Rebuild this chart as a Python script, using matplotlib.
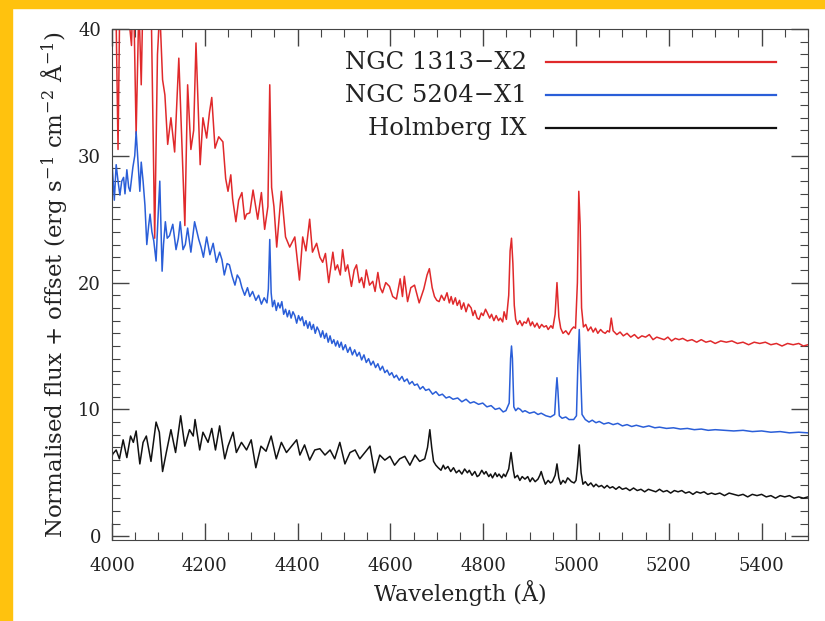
import numpy as np
import matplotlib.pyplot as plt
from matplotlib.patches import Rectangle
from matplotlib.ticker import MultipleLocator

plt.rcParams['font.family'] = 'DejaVu Serif'
plt.rcParams['mathtext.fontset'] = 'dejavuserif'

# (wavelength, normalised flux + offset) pairs
# NGC 1313-X2 (red)
red_pts = [(4008, 43), (4013, 30.5), (4018, 46), (4024, 42), (4030, 47), (4036, 41), (4042, 38.7),
           (4046, 44), (4052, 31.7), (4058, 42), (4063, 35.6), (4068, 45), (4075, 41), (4080, 46),
           (4085, 40.5), (4092, 23.5), (4098, 38), (4103, 41.5), (4109, 36), (4114, 34.8),
           (4120, 30.9), (4127, 33.0), (4135, 30.3), (4144, 37.7), (4152, 29.5), (4157, 24.5),
           (4163, 35.6), (4170, 30.5), (4176, 32), (4181, 38.9), (4190, 29.3), (4196, 33.0),
           (4204, 31.4), (4210, 33.4), (4215, 34.6), (4222, 30.6), (4230, 31.5), (4239, 31.1),
           (4245, 28.2), (4250, 27.2), (4256, 28.5), (4260, 26.6), (4267, 24.8), (4273, 26.5),
           (4280, 27.1), (4286, 25.0), (4290, 25.4), (4297, 25.5), (4304, 27.3), (4314, 25.0),
           (4322, 27.1), (4329, 24.2), (4336, 26.0), (4340, 35.6), (4344, 27.5), (4349, 26.0),
           (4355, 22.8), (4365, 27.2), (4374, 23.6), (4383, 22.8), (4394, 23.6), (4404, 20.2),
           (4411, 23.6), (4418, 22.5), (4426, 25.0), (4432, 22.4), (4441, 23.1), (4448, 22.0),
           (4454, 21.6), (4460, 22.3), (4467, 20.0), (4476, 22.4), (4481, 21.0), (4486, 21.4),
           (4492, 20.6), (4497, 22.6), (4503, 20.9), (4508, 21.4), (4516, 19.7), (4522, 21.0),
           (4527, 21.4), (4533, 20.0), (4538, 20.4), (4543, 19.6), (4548, 21.0), (4555, 19.8),
           (4562, 20.1), (4567, 19.3), (4573, 20.8), (4578, 19.6), (4583, 19.2), (4590, 20.0),
           (4598, 19.7), (4605, 18.9), (4613, 18.7), (4621, 20.3), (4626, 18.9), (4630, 20.5),
           (4637, 18.5), (4644, 19.6), (4652, 19.8), (4662, 18.4), (4672, 19.5), (4679, 20.6),
           (4684, 21.1), (4690, 19.6), (4695, 18.9), (4700, 18.6), (4705, 18.5), (4710, 19.0),
           (4716, 18.6), (4722, 19.2), (4727, 18.4), (4731, 18.9), (4735, 18.3), (4740, 18.8),
           (4744, 18.2), (4749, 18.6), (4753, 17.9), (4758, 18.4), (4763, 17.7), (4768, 18.3),
           (4774, 18.0), (4778, 17.4), (4782, 17.8), (4787, 17.2), (4791, 17.1), (4796, 17.6),
           (4800, 17.4), (4805, 17.9), (4809, 17.6), (4814, 17.2), (4818, 17.5), (4823, 17.0),
           (4828, 17.4), (4833, 17.0), (4837, 17.2), (4842, 16.9), (4845, 17.7), (4850, 17.1),
           (4855, 19.0), (4858, 22.5), (4861, 23.5), (4864, 21.5), (4867, 18.2), (4870, 17.1),
           (4874, 16.7), (4879, 17.0), (4884, 16.6), (4888, 16.9), (4893, 16.8), (4897, 17.2),
           (4902, 16.6), (4906, 16.9), (4911, 16.5), (4916, 16.8), (4921, 16.4), (4926, 16.7),
           (4931, 16.5), (4936, 16.6), (4940, 16.3), (4946, 16.6), (4950, 16.4), (4955, 17.5),
           (4959, 20.0), (4963, 17.3), (4967, 16.4), (4972, 16.0), (4978, 16.2), (4984, 15.9),
           (4990, 16.3), (4995, 16.5), (4999, 16.4), (5003, 20.0), (5006, 27.2), (5009, 24.5),
           (5012, 18.0), (5016, 16.5), (5021, 16.7), (5026, 16.2), (5032, 16.5), (5037, 16.1),
           (5042, 16.4), (5047, 16.0), (5053, 16.3), (5058, 16.1), (5063, 16.0), (5068, 16.2),
           (5072, 16.1), (5076, 17.2), (5080, 16.2), (5088, 15.9), (5095, 16.1), (5102, 15.8),
           (5110, 16.0), (5118, 15.7), (5126, 15.9), (5134, 15.6), (5142, 15.8), (5150, 15.7),
           (5158, 15.9), (5166, 15.5), (5174, 15.7), (5182, 15.6), (5190, 15.5), (5198, 15.7),
           (5206, 15.4), (5214, 15.6), (5222, 15.5), (5230, 15.6), (5240, 15.4), (5250, 15.5),
           (5260, 15.3), (5270, 15.5), (5280, 15.3), (5290, 15.4), (5300, 15.2), (5312, 15.4),
           (5324, 15.3), (5336, 15.4), (5348, 15.2), (5360, 15.3), (5372, 15.1), (5384, 15.3),
           (5396, 15.2), (5408, 15.3), (5420, 15.1), (5432, 15.2), (5444, 15.0), (5456, 15.2),
           (5468, 15.1), (5480, 15.2), (5490, 15.0), (5500, 15.1)]

# NGC 5204-X1 (blue)
blue_pts = [(4000, 29.5), (4002, 28.3), (4005, 26.5), (4009, 29.3), (4013, 28.0), (4017, 26.9),
            (4021, 28.0), (4025, 28.3), (4028, 27.0), (4032, 28.9), (4036, 27.5), (4039, 27.2),
            (4045, 29.1), (4049, 30.0), (4052, 31.9), (4056, 29.5), (4060, 27.2), (4063, 29.5),
            (4067, 28.0), (4071, 26.1), (4075, 23.0), (4079, 24.5), (4082, 25.4), (4086, 24.0),
            (4090, 23.3), (4095, 21.7), (4099, 25.0), (4103, 28.0), (4108, 20.9), (4111, 23.0),
            (4115, 24.8), (4119, 23.5), (4124, 23.7), (4131, 24.6), (4138, 22.6), (4143, 23.5),
            (4147, 24.8), (4153, 22.6), (4158, 23.0), (4163, 24.3), (4170, 22.4), (4178, 24.8),
            (4187, 23.4), (4192, 22.8), (4197, 22.0), (4204, 23.6), (4211, 22.2), (4218, 23.1),
            (4225, 21.6), (4232, 22.4), (4237, 21.8), (4242, 20.6), (4248, 21.5), (4253, 21.4),
            (4259, 20.5), (4265, 19.8), (4270, 20.6), (4275, 20.3), (4280, 19.6), (4286, 19.0),
            (4292, 19.6), (4297, 18.9), (4303, 19.3), (4310, 18.6), (4316, 19.0), (4322, 18.3),
            (4328, 18.8), (4334, 18.4), (4337, 19.5), (4340, 23.4), (4343, 19.2), (4346, 18.1),
            (4350, 18.6), (4354, 17.8), (4358, 18.4), (4362, 18.0), (4366, 18.5), (4370, 17.5),
            (4374, 17.9), (4378, 17.3), (4382, 17.8), (4386, 17.2), (4390, 17.7), (4394, 17.4),
            (4398, 16.8), (4402, 17.4), (4406, 17.0), (4410, 17.3), (4414, 16.6), (4418, 17.0),
            (4422, 16.4), (4426, 16.9), (4430, 16.3), (4434, 16.7), (4438, 16.0), (4442, 16.5),
            (4446, 16.2), (4450, 15.7), (4454, 16.2), (4458, 15.6), (4462, 16.0), (4466, 15.3),
            (4470, 15.8), (4474, 15.2), (4478, 15.5), (4482, 15.0), (4486, 15.4), (4490, 14.9),
            (4494, 15.3), (4498, 14.7), (4503, 15.1), (4508, 14.5), (4513, 14.9), (4518, 14.3),
            (4523, 14.7), (4528, 14.2), (4533, 14.5), (4538, 13.9), (4543, 14.3), (4548, 13.7),
            (4553, 14.0), (4558, 13.5), (4563, 13.8), (4568, 13.3), (4573, 13.6), (4578, 13.1),
            (4583, 13.4), (4588, 12.9), (4593, 13.1), (4598, 12.7), (4603, 12.9), (4608, 12.5),
            (4613, 12.7), (4619, 12.3), (4625, 12.6), (4630, 12.2), (4636, 12.4), (4641, 12.0),
            (4647, 12.2), (4652, 11.9), (4658, 12.0), (4664, 11.6), (4670, 11.8), (4676, 11.5),
            (4683, 11.6), (4691, 11.2), (4698, 11.4), (4705, 11.1), (4712, 11.2), (4720, 10.9),
            (4727, 11.0), (4735, 10.8), (4745, 10.9), (4754, 10.6), (4763, 10.8), (4772, 10.5),
            (4780, 10.6), (4790, 10.4), (4799, 10.5), (4808, 10.2), (4817, 10.3), (4826, 10.0),
            (4835, 10.1), (4843, 9.8), (4849, 9.9), (4856, 10.5), (4859, 14.0), (4861, 15.0),
            (4863, 14.0), (4866, 10.2), (4870, 9.9), (4875, 10.1), (4880, 10.0), (4885, 9.8),
            (4890, 9.9), (4900, 9.7), (4910, 9.8), (4918, 9.6), (4925, 9.7), (4935, 9.5),
            (4945, 9.4), (4954, 9.6), (4957, 11.5), (4959, 12.5), (4961, 11.5), (4964, 9.5),
            (4970, 9.3), (4978, 9.4), (4985, 9.2), (4995, 9.2), (5001, 9.5), (5004, 13.5),
            (5007, 16.3), (5010, 13.0), (5013, 9.6), (5020, 9.2), (5028, 9.0), (5035, 9.15),
            (5043, 8.95), (5050, 9.05), (5060, 8.85), (5070, 8.95), (5080, 8.8), (5090, 8.9),
            (5100, 8.7), (5110, 8.8), (5120, 8.65), (5130, 8.75), (5145, 8.6), (5157, 8.7),
            (5170, 8.55), (5180, 8.6), (5195, 8.5), (5210, 8.55), (5225, 8.45), (5240, 8.5),
            (5255, 8.4), (5270, 8.45), (5285, 8.35), (5300, 8.4), (5320, 8.35), (5340, 8.3),
            (5360, 8.35), (5380, 8.25), (5400, 8.3), (5420, 8.2), (5440, 8.25), (5460, 8.15),
            (5480, 8.2), (5500, 8.15)]

# Holmberg IX (black)
black_pts = [(4000, 6.3), (4002, 6.5), (4009, 6.8), (4016, 6.1), (4024, 7.6), (4032, 6.2),
             (4040, 7.9), (4046, 7.4), (4052, 8.3), (4060, 5.7), (4067, 7.4), (4074, 7.9),
             (4084, 5.9), (4095, 9.0), (4102, 8.2), (4109, 5.1), (4117, 6.6), (4127, 8.4),
             (4137, 6.6), (4148, 9.5), (4157, 7.1), (4167, 8.4), (4175, 7.9), (4179, 9.2),
             (4189, 6.8), (4196, 8.2), (4207, 7.4), (4215, 8.5), (4223, 6.8), (4232, 8.7),
             (4243, 6.1), (4250, 7.1), (4261, 8.2), (4268, 6.6), (4279, 7.4), (4290, 6.8),
             (4300, 7.6), (4310, 5.4), (4321, 7.1), (4332, 6.7), (4343, 7.9), (4354, 6.1),
             (4365, 7.4), (4376, 6.6), (4387, 7.1), (4398, 7.6), (4405, 6.4), (4415, 7.2),
             (4426, 6.0), (4437, 6.8), (4448, 6.9), (4459, 6.4), (4470, 6.8), (4480, 6.1),
             (4491, 7.4), (4502, 5.7), (4513, 6.6), (4524, 6.8), (4534, 6.1), (4545, 6.6),
             (4556, 7.1), (4566, 5.0), (4577, 6.4), (4588, 6.0), (4599, 6.3), (4609, 5.6),
             (4620, 6.1), (4631, 6.3), (4642, 5.6), (4653, 6.4), (4663, 5.9), (4674, 6.1),
             (4680, 7.0), (4685, 8.4), (4689, 7.0), (4693, 5.9), (4698, 5.6), (4703, 5.4),
             (4709, 5.2), (4714, 5.6), (4718, 5.3), (4724, 5.5), (4730, 5.1), (4736, 5.4),
             (4742, 5.0), (4748, 5.2), (4754, 4.9), (4760, 5.3), (4766, 5.0), (4770, 5.2),
             (4776, 4.8), (4782, 5.1), (4787, 4.7), (4791, 4.8), (4797, 5.2), (4802, 4.9),
             (4806, 5.1), (4812, 4.7), (4816, 4.9), (4820, 4.6), (4826, 5.0), (4830, 4.7),
             (4834, 4.9), (4840, 4.6), (4844, 4.9), (4848, 4.7), (4855, 5.3), (4860, 6.6),
             (4865, 5.2), (4868, 4.6), (4874, 4.8), (4879, 4.4), (4884, 4.7), (4890, 4.5),
             (4896, 4.7), (4901, 4.3), (4906, 4.6), (4912, 4.3), (4918, 4.5), (4922, 4.8),
             (4925, 5.1), (4929, 4.6), (4934, 4.1), (4940, 4.4), (4945, 4.2), (4949, 4.3),
             (4955, 4.8), (4959, 5.7), (4963, 4.6), (4967, 4.1), (4972, 4.4), (4977, 4.2),
             (4982, 4.6), (4985, 4.5), (4990, 4.3), (4996, 4.2), (5000, 4.4), (5003, 5.4),
             (5007, 7.2), (5011, 5.0), (5015, 4.1), (5020, 4.3), (5026, 4.0), (5032, 4.2),
             (5038, 3.9), (5043, 4.1), (5049, 3.9), (5055, 4.0), (5061, 3.8), (5067, 4.0),
             (5073, 3.8), (5079, 3.9), (5086, 3.7), (5093, 3.9), (5100, 3.7), (5108, 3.8),
             (5116, 3.6), (5124, 3.8), (5132, 3.6), (5140, 3.7), (5148, 3.5), (5156, 3.7),
             (5164, 3.6), (5172, 3.5), (5180, 3.7), (5188, 3.5), (5196, 3.6), (5204, 3.4),
             (5212, 3.6), (5220, 3.5), (5228, 3.6), (5236, 3.4), (5244, 3.5), (5252, 3.3),
             (5260, 3.5), (5268, 3.4), (5276, 3.5), (5284, 3.3), (5292, 3.4), (5300, 3.3),
             (5310, 3.4), (5320, 3.2), (5330, 3.4), (5340, 3.3), (5350, 3.2), (5360, 3.3),
             (5370, 3.1), (5380, 3.3), (5390, 3.2), (5400, 3.3), (5410, 3.1), (5420, 3.2),
             (5430, 3.0), (5440, 3.2), (5450, 3.1), (5460, 3.2), (5470, 3.0), (5480, 3.1),
             (5490, 3.0), (5500, 3.1)]

names = ['NGC 1313\u2212X2', 'NGC 5204\u2212X1', 'Holmberg IX']
colors = ['#e0292b', '#2a5ed8', '#111111']

wl_red, fx_red = zip(*red_pts)
wl_blue, fx_blue = zip(*blue_pts)
wl_black, fx_black = zip(*black_pts)

fig = plt.figure(figsize=(8.25, 6.21), dpi=100)
fig.patches.append(Rectangle((0, 0), 12 / 825, 1, transform=fig.transFigure,
                             color='#ffc20e', zorder=0))
fig.patches.append(Rectangle((0, 1 - 8 / 621), 1, 8 / 621, transform=fig.transFigure,
                             color='#ffc20e', zorder=0))
ax = fig.add_axes([112 / 825, 81 / 621, 696 / 825, 511 / 621])

ax.plot(wl_red, fx_red, color=colors[0], lw=1.1)
ax.plot(wl_blue, fx_blue, color=colors[1], lw=1.1)
ax.plot(wl_black, fx_black, color=colors[2], lw=1.1)

ax.set_xlim(4000, 5500)
ax.set_ylim(-0.3, 40)
ax.xaxis.set_major_locator(MultipleLocator(200))
ax.xaxis.set_minor_locator(MultipleLocator(50))
ax.yaxis.set_major_locator(MultipleLocator(10))
ax.yaxis.set_minor_locator(MultipleLocator(1))
ax.tick_params(which='both', direction='in', top=True, right=True, color='#444444',
               labelsize=13, labelcolor='#222222')
ax.tick_params(axis='x', pad=12)
ax.tick_params(axis='y', pad=8)
ax.tick_params(which='major', length=12, width=1)
ax.tick_params(which='minor', length=6, width=0.8)
for s in ax.spines.values():
    s.set_color('#444444')

ax.set_xlabel('Wavelength (\u00c5)', fontsize=16, labelpad=4, color='#222222')
ax.set_ylabel('Normalised flux + offset (erg s$^{-1}$ cm$^{-2}$ \u00c5$^{-1}$)',
              fontsize=16.5, labelpad=6, color='#222222')

# legend: names right aligned, long lines to the right
rows = [0.935, 0.870, 0.806]
for name, c, yy in zip(names, colors, rows):
    ax.text(0.596, yy, name, transform=ax.transAxes, ha='right', va='center',
            fontsize=17.5, color='#222222')
    ax.plot([0.624, 0.954], [yy, yy], transform=ax.transAxes, color=c, lw=1.6)

fig.savefig('out.png', dpi=100)
